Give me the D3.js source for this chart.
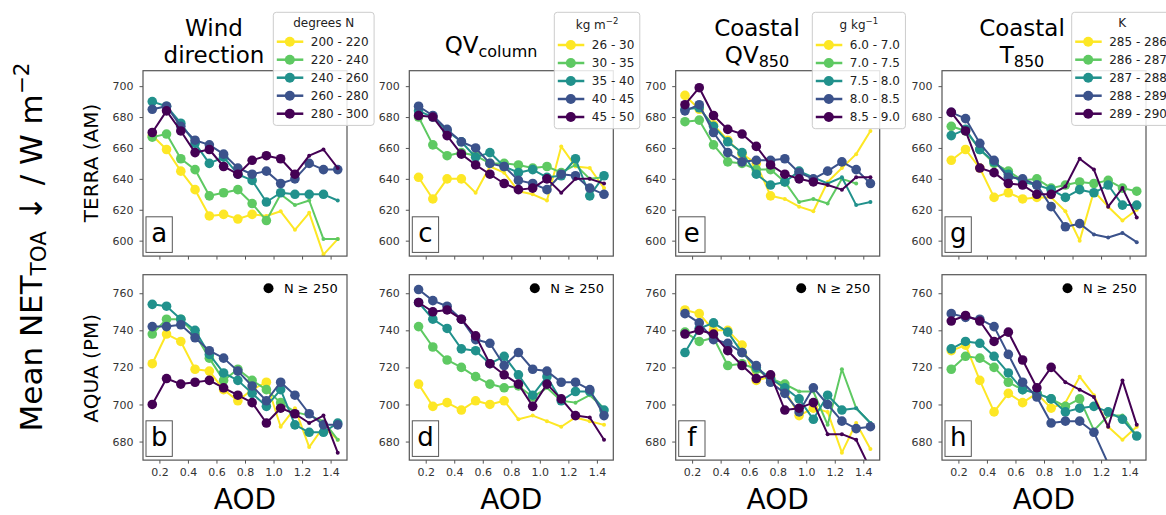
<!DOCTYPE html>
<html>
<head>
<meta charset="utf-8">
<script src="https://cdn.jsdelivr.net/npm/d3@7"></script>
<style>
  body { margin: 0; background: #fff; }
  svg { display: block; font-family: "DejaVu Sans", "Liberation Sans", sans-serif; }
</style>
</head>
<body>
<svg id="chart" width="1166" height="515"></svg>
<script>
// ---- AOD bins (bin centres) and axis ticks ----
const aod = [0.15, 0.25, 0.35, 0.45, 0.55, 0.65, 0.75, 0.85, 0.95, 1.05, 1.15, 1.25, 1.35, 1.45];
const xTicks = [0.2, 0.4, 0.6, 0.8, 1.0, 1.2, 1.4];
const xTickLabels = ["0.2", "0.4", "0.6", "0.8", "1.0", "1.2", "1.4"];
const yTicksTerra = [600, 620, 640, 660, 680, 700];
const yTicksAqua = [680, 700, 720, 740, 760];

// ---- bin labels for each meteorological variable ----
const windBins = ["200 - 220", "220 - 240", "240 - 260", "260 - 280", "280 - 300"];
const qvColumnBins = ["26 - 30", "30 - 35", "35 - 40", "40 - 45", "45 - 50"];
const qv850Bins = ["6.0 - 7.0", "7.0 - 7.5", "7.5 - 8.0", "8.0 - 8.5", "8.5 - 9.0"];
const t850Bins = ["285 - 286", "286 - 287", "287 - 288", "288 - 289", "289 - 290"];

const binColors = ["#fde725", "#5ec962", "#21918c", "#3b528b", "#440154"];

// ---- mean NET TOA (W m-2), TERRA overpass ----
const terraWind = [
  [668, 659, 645, 633, 616, 617, 614, 617, 616, 619, 607, 618, 591, 601],
  [667, 669, 653, 646, 629, 631, 633, 624, 613, 630, 623, 626, 601, 601],
  [690, 687, 676, 663, 650, 654, 643, 639, 625, 631, 630, 630, 630, 626],
  [685, 687, 674, 665, 662, 656, 647, 643, 645, 637, 640, 650, 646, 646],
  [670, 684, 671, 657, 659, 648, 643, 652, 655, 653, 643, 655, 659, 647]
];
const terraQvColumn = [
  [641, 627, 640, 640, 631, 648, 644, 632, 630, 626, 661, 648, 647, 634],
  [680, 662, 655, 657, 655, 650, 650, 649, 647, 648, 644, 649, 640, 641],
  [684, 680, 671, 664, 654, 657, 648, 644, 646, 641, 642, 653, 629, 642],
  [687, 681, 672, 664, 660, 650, 648, 639, 637, 633, 643, 642, 634, 630],
  [681, 680, 668, 656, 649, 643, 637, 633, 634, 640, 631, 640, 640, 637]
];
const terraQv850 = [
  [694, 685, 675, 665, 656, 650, 629, 627, 622, 619, 638, 647, 656, 671],
  [677, 678, 662, 651, 650, 646, 646, 638, 625, 627, 624, 640, 637, null],
  [685, 686, 674, 664, 657, 643, 636, 638, 645, 641, 637, 641, 623, 625],
  [684, 688, 670, 657, 651, 652, 652, 653, 644, 640, 645, 651, 646, 637],
  [688, 699, 681, 672, 669, 661, 649, 643, 640, 638, 636, 633, 641, 641]
];
const terraT850 = [
  [652, 659, 647, 628, 631, 627, 628, 628, 619, 600, 632, 622, 613, 620],
  [674, 671, 659, 650, 645, 639, 640, 634, 636, 638, 637, 639, 634, 632],
  [668, 672, 659, 651, 643, 638, 636, 633, 628, 633, 631, 636, 623, 623],
  [683, 679, 663, 652, 641, 640, 636, 622, 609, 611, 604, 602, 605, 599],
  [683, 671, 647, 644, 637, 636, 630, 630, 635, 653, 646, 622, 634, 615]
];

// ---- mean NET TOA (W m-2), AQUA overpass ----
const aquaWind = [
  [722, 738, 734, 719, 718, 708, 702, 708, 712, 688, 698, 677, 688, 681],
  [738, 746, 746, 738, 725, 713, 719, 713, 708, 701, 696, 694, 691, 681],
  [754, 753, 746, 740, 727, 717, 713, 706, 699, 708, 689, 685, 685, 690],
  [742, 742, 743, 736, 729, 725, 718, 710, 702, 712, 705, 695, 689, 689],
  [700, 714, 711, 712, 713, 709, 705, 701, 690, 698, 695, 690, 694, 674]
];
const aquaQvColumn = [
  [711, 699, 701, 697, 702, 700, 702, 692, 694, 691, 688, 693, 691, 689],
  [742, 731, 724, 720, 715, 711, 709, 710, 704, 709, 702, 701, 705, 698],
  [755, 746, 741, 730, 729, 722, 726, 716, 705, 715, 702, 707, 707, 697],
  [762, 756, 753, 746, 735, 733, 721, 728, 719, 718, 712, 712, 708, 694],
  [755, 750, 751, 746, 737, 722, 716, 711, 699, 711, 703, 694, 693, 681]
];
const aquaQv850 = [
  [751, 749, 740, 740, 732, 713, 715, 708, 694, 698, 696, 674, 690, 676],
  [739, 734, 736, 721, 722, 719, 714, 711, 707, 707, 689, 719, 698, 690],
  [728, 741, 744, 739, 728, 720, 714, 709, 703, 692, 705, 697, 698, 690],
  [749, 744, 735, 733, 728, 721, 712, 706, 696, 709, 700, 691, 687, 688],
  [738, 740, 738, 729, 721, 714, 716, 697, 698, 701, 684, 684, 681, 665]
];
const aquaT850 = [
  [729, 732, 713, 696, 706, 701, 706, 698, 701, 715, 705, 688, 681, 688],
  [719, 726, 725, 720, 712, 708, 706, 703, 699, 703, 686, 694, 694, 683],
  [730, 734, 733, 726, 717, 708, 706, 703, 696, 698, 699, 696, 692, 683],
  [749, 747, 746, 742, 727, 712, 704, 690, 691, 691, 685, 668, 664, 661],
  [745, 748, 745, 734, 739, 724, 709, 720, 712, 708, 704, 688, 713, 689]
];

// number of leading AOD bins per series with at least 250 samples (large markers)
const terraWindBig = [8, 9, 13, 14, 11];
const terraQvColumnBig = [4, 11, 14, 14, 10];
const terraQv850Big = [7, 8, 9, 14, 10];
const terraT850Big = [7, 14, 14, 10, 8];
const aquaWindBig = [9, 10, 14, 14, 11];
const aquaQvColumnBig = [7, 9, 14, 14, 12];
const aquaQv850Big = [10, 8, 12, 14, 10];
const aquaT850Big = [8, 10, 14, 11, 8];

const panelLetters = ["a", "b", "c", "d", "e", "f", "g", "h"];

// ---- layout ----
const svg = d3.select("#chart");
const colLeft = [143, 409.3, 675.7, 942];
const rowTop = [70.7, 274.7];
const panelW = 204, panelH = 185.4;
const xDomain = [0.085, 1.515];
const yDomains = [[590, 710], [670, 770]];
const axisColor = "#555";
const textColor = "#333";

const panels = [
  { col: 0, row: 0, vals: terraWind, big: terraWindBig },
  { col: 0, row: 1, vals: aquaWind, big: aquaWindBig },
  { col: 1, row: 0, vals: terraQvColumn, big: terraQvColumnBig },
  { col: 1, row: 1, vals: aquaQvColumn, big: aquaQvColumnBig },
  { col: 2, row: 0, vals: terraQv850, big: terraQv850Big },
  { col: 2, row: 1, vals: aquaQv850, big: aquaQv850Big },
  { col: 3, row: 0, vals: terraT850, big: terraT850Big },
  { col: 3, row: 1, vals: aquaT850, big: aquaT850Big }
];

const defs = svg.append("defs");

panels.forEach((p, k) => {
  const x0 = colLeft[p.col], y0 = rowTop[p.row];
  const xs = d3.scaleLinear().domain(xDomain).range([x0, x0 + panelW]);
  const ys = d3.scaleLinear().domain(yDomains[p.row]).range([y0 + panelH, y0]);
  const g = svg.append("g");

  // axes
  const xAxis = d3.axisBottom(xs).tickValues(xTicks).tickSize(3.5).tickSizeOuter(0).tickPadding(5)
    .tickFormat((d, i) => p.row === 1 ? xTickLabels[i] : "");
  const yAxis = d3.axisLeft(ys).tickValues(p.row === 0 ? yTicksTerra : yTicksAqua)
    .tickSize(3.5).tickSizeOuter(0).tickPadding(6);
  const gx = g.append("g").attr("transform", `translate(0,${y0 + panelH})`).call(xAxis);
  const gy = g.append("g").attr("transform", `translate(${x0},0)`).call(yAxis);
  [gx, gy].forEach(a => {
    a.select(".domain").remove();
    a.selectAll(".tick line").attr("stroke", axisColor).attr("stroke-width", 1);
    a.selectAll(".tick text").attr("fill", textColor).style("font-size", "11px")
      .style("font-family", "DejaVu Sans");
  });

  // series
  const clipId = "clip" + k;
  defs.append("clipPath").attr("id", clipId).append("rect")
    .attr("x", x0).attr("y", y0).attr("width", panelW).attr("height", panelH);
  const plot = g.append("g").attr("clip-path", `url(#${clipId})`);
  const line = d3.line().x(d => xs(d.a)).y(d => ys(d.v));
  p.vals.forEach((vals, s) => {
    const pts = aod.map((a, i) => ({ a, v: vals[i], big: i < p.big[s] })).filter(d => d.v != null);
    plot.append("path").datum(pts).attr("d", line)
      .attr("fill", "none").attr("stroke", binColors[s]).attr("stroke-width", 2)
      .attr("stroke-linejoin", "round");
    plot.selectAll(null).data(pts).join("circle")
      .attr("cx", d => xs(d.a)).attr("cy", d => ys(d.v))
      .attr("r", d => d.big ? 4.8 : 2)
      .attr("fill", binColors[s]);
  });

  // frame
  g.append("rect").attr("x", x0).attr("y", y0).attr("width", panelW).attr("height", panelH)
    .attr("fill", "none").attr("stroke", axisColor).attr("stroke-width", 1.2);

  // panel letter box
  const bx = x0 + 3, bh = 35.6, bw = 26.3, by = y0 + panelH - 3.7 - bh;
  g.append("rect").attr("x", bx).attr("y", by).attr("width", bw).attr("height", bh)
    .attr("fill", "#fff").attr("stroke", axisColor).attr("stroke-width", 1);
  g.append("text").attr("x", bx + bw / 2).attr("y", by + bh - 10)
    .attr("text-anchor", "middle").style("font-size", "26px").attr("fill", "#000")
    .text(panelLetters[k]);

  if (p.row === 1) {
    // sample-size key
    const right = x0 + panelW;
    g.append("circle").attr("cx", right - 78.5).attr("cy", y0 + 13.6).attr("r", 5).attr("fill", "#000");
    g.append("text").attr("x", right - 63).attr("y", y0 + 18.6)
      .style("font-size", "13px").attr("fill", "#000").text("N \u2265 250");
    // x-axis label
    g.append("text").attr("x", x0 + panelW / 2).attr("y", 508.5).attr("text-anchor", "middle")
      .style("font-size", "28px").attr("fill", "#000").text("AOD");
  }
});

// ---- column titles ----
function title(cx, lines) {
  lines.forEach(l => {
    const t = svg.append("text").attr("x", cx).attr("y", l.y).attr("text-anchor", "middle")
      .style("font-size", "23px").attr("fill", "#000");
    t.append("tspan").text(l.text);
    if (l.sub) {
      t.append("tspan").attr("dy", 3.5).style("font-size", "16px").text(l.sub);
    }
  });
}
title(214, [{ y: 36, text: "Wind" }, { y: 62.7, text: "direction" }]);
title(491, [{ y: 53.3, text: "QV", sub: "column" }]);
title(757, [{ y: 36, text: "Coastal" }, { y: 63.3, text: "QV", sub: "850" }]);
title(1022, [{ y: 36, text: "Coastal" }, { y: 63.3, text: "T", sub: "850" }]);

// ---- row labels ----
svg.append("text").attr("transform", "translate(97.5,163) rotate(-90)").attr("text-anchor", "middle")
  .style("font-size", "20px").attr("fill", "#000").text("TERRA (AM)");
svg.append("text").attr("transform", "translate(97.5,368.3) rotate(-90)").attr("text-anchor", "middle")
  .style("font-size", "20px").attr("fill", "#000").text("AQUA (PM)");

// ---- shared y label ----
const yl = svg.append("text").attr("transform", "translate(41.7,247) rotate(-90)")
  .attr("text-anchor", "middle").style("font-size", "31px").attr("fill", "#000");
yl.append("tspan").text("Mean NET");
yl.append("tspan").attr("dy", 4).style("font-size", "21.5px").text("TOA");
yl.append("tspan").attr("dy", -4).text(" \u2193 / W m");
yl.append("tspan").attr("dy", -13).style("font-size", "21.5px").text("\u22122");

// ---- legends ----
function legend(left, top, titleMain, titleSup, labels) {
  const g = svg.append("g");
  const frame = g.append("rect");
  const firstY = top + (titleSup ? 32.7 : 29.4);
  const step = 18;
  let maxW = 0;
  labels.forEach((lab, i) => {
    const cy = firstY + i * step;
    g.append("line").attr("x1", left + 3.5).attr("x2", left + 30).attr("y1", cy).attr("y2", cy)
      .attr("stroke", binColors[i]).attr("stroke-width", 2.5);
    g.append("circle").attr("cx", left + 16.5).attr("cy", cy).attr("r", 5).attr("fill", binColors[i]);
    const t = g.append("text").attr("x", left + 37.5).attr("y", cy + 4.3)
      .style("font-size", "12px").attr("fill", "#222").text(lab);
    maxW = Math.max(maxW, t.node().getComputedTextLength());
  });
  const w = 37.5 + maxW + 5.5;
  const h = firstY + 4 * step + 11.7 - top;
  frame.attr("x", left).attr("y", top).attr("width", w).attr("height", h).attr("rx", 3)
    .attr("fill", "#fff").attr("fill-opacity", 0.85).attr("stroke", "#ccc").attr("stroke-width", 1);
  const tt = g.append("text").attr("x", left + w / 2).attr("y", top + (titleSup ? 16.2 : 14.4))
    .attr("text-anchor", "middle").style("font-size", "12px").attr("fill", "#222");
  tt.append("tspan").text(titleMain);
  if (titleSup) tt.append("tspan").attr("dy", -5).style("font-size", "8.5px").text(titleSup);
}
legend(273.3, 12.3, "degrees N", null, windBins);
legend(554.3, 12.3, "kg m", "\u22122", qvColumnBins);
legend(812.3, 12.3, "g kg", "\u22121", qv850Bins);
legend(1071.7, 12.3, "K", null, t850Bins);
</script>
</body>
</html>
